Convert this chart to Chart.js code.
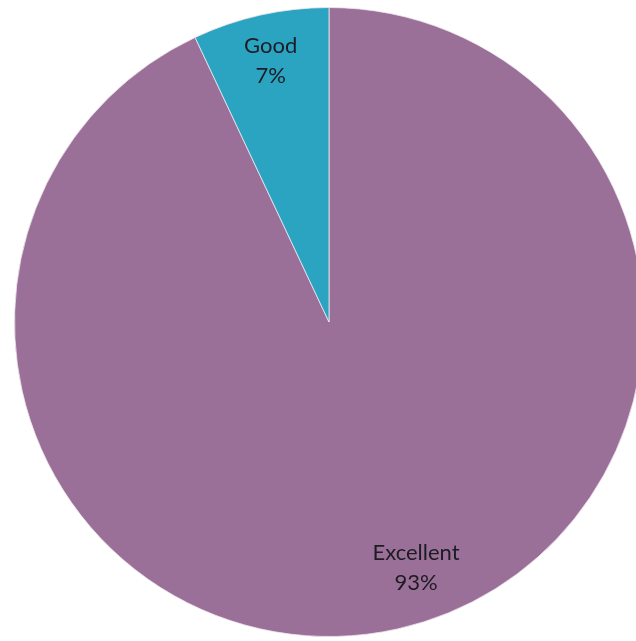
<!DOCTYPE html>
<html>
<head>
<meta charset="utf-8">
<script src="https://cdn.jsdelivr.net/npm/chart.js@4/dist/chart.umd.min.js"></script>
<style>
	html, body { margin: 0; padding: 0; background: #fff; overflow: hidden; }
	#wrap { position: absolute; left: 0; top: 0; width: 658px; height: 644px; }
</style>
</head>
<body>
<div id="wrap"><canvas id="pie-chart" width="658" height="644"></canvas></div>
<script>
	// Data
	var categories = ['Excellent', 'Good'];
	var percents = [93, 7];
	var sliceColors = ['#9a7099', '#2ba4c2'];

	// Slice labels: name on one line, percentage under it
	var sliceLabels = {
		id: 'sliceLabels',
		afterDatasetsDraw: function (chart) {
			var ctx = chart.ctx;
			var meta = chart.getDatasetMeta(0);
			ctx.save();
			ctx.fillStyle = '#1c1c22';
			ctx.font = '22px Lato, "Open Sans", sans-serif';
			ctx.textAlign = 'center';
			ctx.textBaseline = 'middle';
			meta.data.forEach(function (arc, i) {
				var p = arc.getProps(['x', 'y', 'startAngle', 'endAngle', 'outerRadius'], true);
				var mid = (p.startAngle + p.endAngle) / 2 + (i === 0 ? -0.12 : 0);
				var r = p.outerRadius * (i === 0 ? 0.83 : 0.85);
				var x = p.x + Math.cos(mid) * r;
				var y = p.y + Math.sin(mid) * r;
				ctx.fillText(categories[i], x, y - 15);
				ctx.fillText(percents[i] + '%', x, y + 15);
			});
			ctx.restore();
		}
	};

	var ctx1 = document.getElementById('pie-chart').getContext('2d');
	var myChart1 = new Chart(ctx1, {
		type: 'pie',
		data: {
			labels: categories,
			datasets: [
				{
					data: percents,
					backgroundColor: sliceColors,
					borderColor: 'rgba(240, 230, 240, 0.8)',
					borderWidth: 1,
				},
			],
		},
		options: {
			responsive: false,
			animation: false,
			layout: { padding: { top: 7, bottom: 7, left: 14, right: 14 } },
			plugins: {
				legend: { display: false },
				tooltip: { enabled: false },
			},
		},
		plugins: [sliceLabels],
	});
</script>
</body>
</html>
